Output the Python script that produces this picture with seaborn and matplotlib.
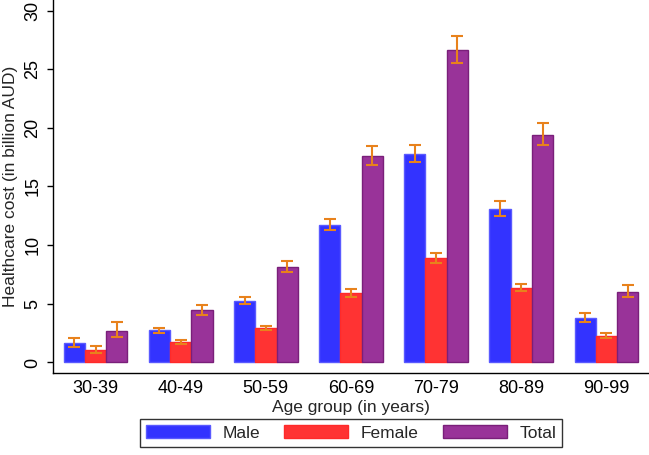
import matplotlib
matplotlib.use("Agg")
import matplotlib.pyplot as plt
import seaborn as sns
import pandas as pd
import numpy as np
from matplotlib.patches import Patch

age_groups = ["30-39", "40-49", "50-59", "60-69", "70-79", "80-89", "90-99"]
male = [1.68, 2.73, 5.24, 11.72, 17.77, 13.08, 3.78]
male_lo = [1.34, 2.53, 4.98, 11.30, 17.10, 12.46, 3.44]
male_hi = [2.05, 2.93, 5.56, 12.20, 18.50, 13.76, 4.18]
female = [1.05, 1.74, 2.90, 5.89, 8.87, 6.37, 2.24]
female_lo = [0.82, 1.56, 2.73, 5.57, 8.45, 6.06, 2.05]
female_hi = [1.42, 1.93, 3.13, 6.23, 9.30, 6.66, 2.47]
total = [2.68, 4.44, 8.16, 17.63, 26.65, 19.39, 6.02]
total_lo = [2.16, 4.07, 7.68, 16.86, 25.56, 18.54, 5.55]
total_hi = [3.42, 4.87, 8.64, 18.43, 27.80, 20.39, 6.57]
series = ["Male", "Female", "Total"]
yticks = [0, 5, 10, 15, 20, 25, 30]

df = pd.DataFrame({
    "age": age_groups * 3,
    "group": [s for s in series for _ in age_groups],
    "cost": male + female + total,
    "lo": male_lo + female_lo + total_lo,
    "hi": male_hi + female_hi + total_hi,
})

sns.set_style("white")
plt.rcParams["font.family"] = ["Liberation Sans", "DejaVu Sans"]
FS = 12.5
TFS = 13

fig = plt.figure(figsize=(6.49, 4.55), dpi=100)
ax = fig.add_axes([53 / 649, 1 - 373 / 455, 1 - 53 / 649, 373 / 455])

colors = {"Male": "#3333ff", "Female": "#ff3333", "Total": "#993399"}
edges = {"Male": "#5a5aff", "Female": "#ff2a2a", "Total": "#7a1f7a"}
sns.barplot(data=df, x="age", y="cost", hue="group", order=age_groups,
            hue_order=series, palette=colors, width=0.75, gap=0,
            errorbar=None, saturation=1, ax=ax, legend=False)

for cont, s in zip(ax.containers, series):
    sub = df[df["group"] == s].set_index("age").loc[age_groups]
    xs = [p.get_x() + p.get_width() / 2 for p in cont]
    for p in cont:
        p.set_edgecolor(edges[s])
        p.set_linewidth(1.0)
    ys = sub["cost"].values
    yerr = np.vstack([ys - sub["lo"].values, sub["hi"].values - ys])
    ax.errorbar(xs, ys, yerr=yerr, fmt="none", ecolor="#e8821c",
                elinewidth=1.5, capsize=4.5, capthick=1.5, zorder=5)

ax.set_xlim(-0.5, 6.5)
ax.set_ylim(-0.9, 30.9)
ax.set_yticks(yticks)
ax.set_yticklabels([str(t) for t in yticks], rotation=90, va="center",
                   fontsize=TFS)
ax.set_xticks(range(len(age_groups)))
ax.set_xticklabels(age_groups, fontsize=TFS)
ax.tick_params(axis="y", direction="out", length=4.3, width=1,
               colors="black", left=True, pad=4)
ax.tick_params(axis="x", length=0, colors="black", pad=5)
ax.set_xlabel("Age group (in years)", fontsize=FS, labelpad=2)
ax.set_ylabel("Healthcare cost (in billion AUD)", fontsize=FS, labelpad=5)
for side in ["top", "right"]:
    ax.spines[side].set_visible(False)
for side in ["left", "bottom"]:
    ax.spines[side].set_color("black")
    ax.spines[side].set_linewidth(1)

handles = [Patch(facecolor=colors[s], edgecolor=edges[s], label=s) for s in series]
leg = fig.legend(handles=handles, loc="center", ncol=3,
                 bbox_to_anchor=(351 / 649, 1 - 433 / 455),
                 frameon=True, fancybox=False, edgecolor="black",
                 fontsize=FS, handlelength=3.7, handleheight=0.75,
                 columnspacing=1.4, handletextpad=0.7, borderpad=0.35)
leg.get_frame().set_linewidth(1)

fig.savefig("out.png", dpi=100)
